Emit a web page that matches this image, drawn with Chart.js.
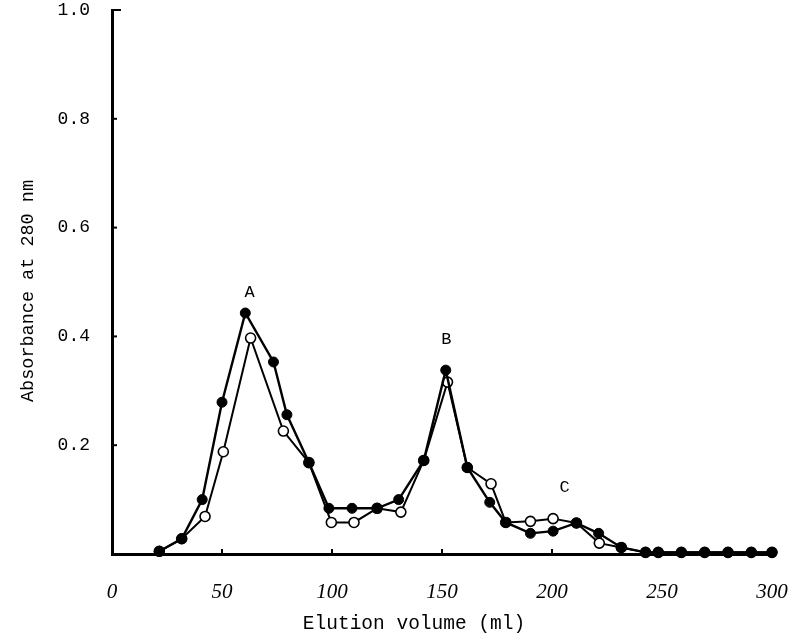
<!DOCTYPE html>
<html>
<head>
<meta charset="utf-8">
<script src="https://cdn.jsdelivr.net/npm/chart.js@4/dist/chart.umd.min.js"></script>
<style>
  html, body { margin: 0; padding: 0; background: #fff; }
  #wrap { width: 794px; height: 641px; }
</style>
</head>
<body>
<div id="wrap"><canvas id="chart"></canvas></div>
<script>
/* Elution profile, absorbance at 280 nm (two runs) */

const filledX = [21.5, 31.7, 41, 50, 60.6, 73.4, 79.5, 89.5, 98.6, 109.1, 120.5, 130.3, 141.7, 151.7,
                 161.5, 171.7, 179, 190.2, 200.5, 211.1, 221.2, 231.5, 242.5, 248.3, 258.8, 269.4, 280, 290.6, 300];
const filledY = [0.005, 0.028, 0.10, 0.279, 0.443, 0.353, 0.256, 0.168, 0.084, 0.084, 0.084, 0.10, 0.172, 0.338,
                 0.159, 0.095, 0.058, 0.038, 0.042, 0.057, 0.038, 0.012, 0.003, 0.003, 0.003, 0.003, 0.003, 0.003, 0.003];

const openX = [21.5, 31.7, 42.3, 50.6, 63, 77.9, 89.5, 99.7, 110, 120.5, 131.3, 141.7, 152.5,
               161.5, 172.3, 179, 190.2, 200.5, 211.1, 221.5, 231.5, 242.5, 248.3, 258.8, 269.4, 280, 290.6, 300];
const openY = [0.005, 0.028, 0.069, 0.188, 0.397, 0.226, 0.168, 0.058, 0.058, 0.084, 0.077, 0.172, 0.316,
               0.159, 0.129, 0.058, 0.060, 0.065, 0.057, 0.020, 0.012, 0.003, 0.003, 0.003, 0.003, 0.003, 0.003, 0.003];

const xTicks = [0, 50, 100, 150, 200, 250, 300];
const yTicks = [0.2, 0.4, 0.6, 0.8, 1.0];

const peakNames = ["A", "B", "C"];
const peakX     = [62.5, 152, 205.7];
const peakY     = [0.48, 0.395, 0.122];

const MONO = "'Liberation Mono', 'DejaVu Sans Mono', monospace";

function pts(xs, ys) {
  return xs.map((x, i) => ({ x, y: ys[i] }));
}

/* inward tick marks, peak letters and axis titles */
const decor = {
  id: "decor",
  afterDraw(chart) {
    const { ctx, chartArea: a, scales: { x, y } } = chart;
    ctx.save();
    ctx.strokeStyle = "#000";
    ctx.lineWidth = 2;
    yTicks.forEach(v => {
      const py = y.getPixelForValue(v);
      ctx.beginPath();
      ctx.moveTo(a.left, py);
      ctx.lineTo(a.left + (v === 1.0 ? 9 : 5), py);
      ctx.stroke();
    });
    xTicks.slice(1, -1).forEach(v => {
      const px = x.getPixelForValue(v);
      ctx.beginPath();
      ctx.moveTo(px, a.bottom);
      ctx.lineTo(px, a.bottom - 5);
      ctx.stroke();
    });

    ctx.fillStyle = "#000";
    ctx.textAlign = "center";
    ctx.textBaseline = "middle";
    ctx.font = "17px " + MONO;
    peakNames.forEach((t, i) => {
      ctx.fillText(t, x.getPixelForValue(peakX[i]), y.getPixelForValue(peakY[i]));
    });

    ctx.font = "19.5px " + MONO;
    ctx.fillText("Elution volume (ml)", 414, 624);

    ctx.translate(28, 291);
    ctx.rotate(-Math.PI / 2);
    ctx.font = "18.5px " + MONO;
    ctx.fillText("Absorbance at 280 nm", 0, 0);
    ctx.restore();
  }
};

new Chart(document.getElementById("chart"), {
  type: "scatter",
  data: {
    datasets: [
      {
        label: "filled",
        data: pts(filledX, filledY),
        showLine: true,
        borderColor: "#000",
        borderWidth: 2.4,
        pointRadius: 5,
        pointBackgroundColor: "#000",
        pointBorderColor: "#000",
        pointBorderWidth: 1,
        clip: false
      },
      {
        label: "open",
        data: pts(openX, openY),
        showLine: true,
        borderColor: "#000",
        borderWidth: 2,
        pointRadius: 5,
        pointBackgroundColor: "#fff",
        pointBorderColor: "#000",
        pointBorderWidth: 1.6,
        clip: false
      }
    ]
  },
  options: {
    responsive: true,
    maintainAspectRatio: false,
    animation: false,
    layout: { padding: { top: 10, right: 22, left: 0, bottom: 0 } },
    plugins: {
      legend: { display: false },
      tooltip: { enabled: false }
    },
    scales: {
      x: {
        type: "linear",
        min: 0, max: 300,
        afterFit: s => { s.height = 87; s.paddingLeft = 0; s.paddingRight = 0; },
        afterBuildTicks: s => { s.ticks = xTicks.map(v => ({ value: v })); },
        grid: { display: false },
        border: { display: true, color: "#000", width: 3 },
        ticks: {
          padding: 18,
          color: "#000",
          font: { family: "'Liberation Serif', serif", style: "italic", size: 21 }
        }
      },
      y: {
        type: "linear",
        min: 0, max: 1.0,
        afterFit: s => { s.width = 112; s.paddingTop = 0; s.paddingBottom = 0; },
        afterBuildTicks: s => { s.ticks = yTicks.map(v => ({ value: v })); },
        grid: { display: false },
        border: { display: true, color: "#000", width: 3 },
        ticks: {
          padding: 14,
          color: "#000",
          font: { family: MONO, size: 18 },
          callback: v => v.toFixed(1)
        }
      }
    }
  },
  plugins: [decor]
});
</script>
</body>
</html>
